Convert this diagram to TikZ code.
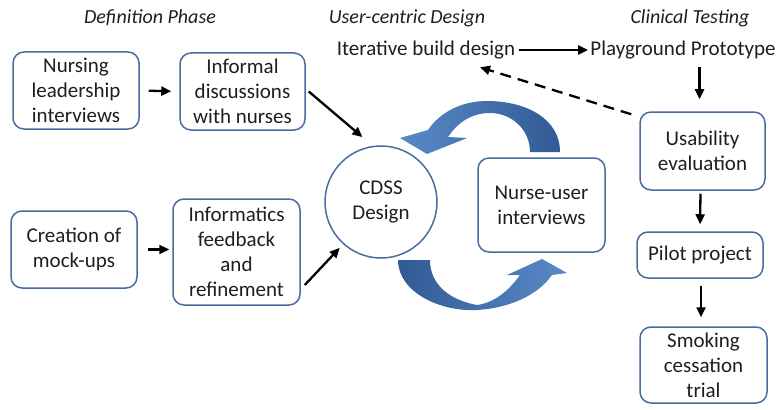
\documentclass[tikz,border=0pt]{standalone}
\usepackage{fontspec}
\setmainfont{Carlito}
\usetikzlibrary{arrows.meta,calc}
\definecolor{boxline}{RGB}{72,108,160}
\definecolor{bluedark}{RGB}{50,90,148}
\definecolor{bluelight}{RGB}{88,138,200}
\definecolor{txt}{RGB}{30,30,30}
\tikzset{
  stepbox/.style={draw=boxline, line width=1.5pt, rounded corners=11pt, align=center, text=txt,
    font=\fontsize{21}{25}\selectfont, inner sep=0pt},
  plain/.style={align=center, text=txt, font=\fontsize{21}{25}\selectfont, inner sep=0pt},
  head/.style={text=txt, font=\fontsize{20}{24}\selectfont\itshape, inner sep=0pt},
  arr/.style={-{Triangle[length=10pt,width=9pt]}, line width=2.3pt, black},
}
\begin{document}
\begin{tikzpicture}[x=1pt,y=-1pt]
\useasboundingbox (0,0) rectangle (783,409);
% headings
\node[head] (h1) at (150,18) {Definition Phase};
\node[head] (h2) at (407,18) {User-centric Design};
\node[head] (h3) at (690,18) {Clinical Testing};
% left boxes
\node[stepbox, minimum width=126pt, minimum height=77pt] (b1) at (76,90.5) {Nursing\\leadership\\interviews};
\node[stepbox, minimum width=125pt, minimum height=77pt] (b2) at (242.5,91.5) {Informal\\discussions\\with nurses};
\node[stepbox, minimum width=126pt, minimum height=77pt] (b3) at (74,249.5) {Creation of\\mock-ups};
\node[stepbox, minimum width=127pt, minimum height=106pt] (b4) at (236.5,252) {Informatics\\feedback\\and\\refinement};
% centre
\node[stepbox, circle, rounded corners=0pt, minimum size=112pt] (cdss) at (381,202) {CDSS\\Design};
\node[stepbox, minimum width=127pt, minimum height=94pt] (nurse) at (541.5,205) {Nurse-user\\interviews};
% top texts
\node[plain] (iter) at (426,50) {Iterative build design};
\node[plain] (play) at (683,50) {Playground Prototype};
% right column
\node[stepbox, minimum width=125pt, minimum height=78pt] (usab) at (702.5,151) {Usability\\evaluation};
\node[stepbox, minimum width=126pt, minimum height=46pt] (pilot) at (700,255) {Pilot project};
\node[stepbox, minimum width=127pt, minimum height=76pt] (smoke) at (703.5,365) {Smoking\\cessation\\trial};
% curved arrows
\shade[left color=bluelight, right color=bluedark, draw=none]
  (560,152) .. controls (560,118) and (525,101) .. (487,101)
  .. controls (462,101) and (440,112) .. (428,130)
  -- (400,138) -- (427,154) -- (467,138) -- (448,137)
  .. controls (458,122) and (472,113) .. (490,113)
  .. controls (512,113) and (530,130) .. (530,152) -- cycle;
\shade[left color=bluedark, right color=bluelight, draw=none]
  (398,260) .. controls (398,292) and (440,312) .. (477,310)
  .. controls (510,308) and (538,295) .. (552,275)
  -- (567,273) -- (542,259) -- (507,275) -- (520,275)
  .. controls (508,292) and (493,303) .. (477,305)
  .. controls (450,300) and (430,285) .. (430,260) -- cycle;
% arrows
\draw[arr, shorten <=9pt, shorten >=8pt] (b1.east) -- (b2.west);
\draw[arr, shorten <=10pt, shorten >=3pt] (b3.east) -- (b4.west |- b3.east);
\draw[arr] ($(b2.east)+(3,0)$) -- ($(cdss.center)!1.19!(cdss.106)$);
\draw[arr] ($(b4.east)+(4,33)$) -- ($(cdss.center)!1.087!(cdss.228)$);
\draw[arr, shorten <=4pt, shorten >=2pt] (iter.east) -- (play.west);
\draw[arr] ($(usab.north)+(-3,-44)$) -- ($(usab.north)+(-3,-12)$);
\draw[arr, shorten <=3pt, shorten >=7pt] ([xshift=-2pt]usab.south) -- ([xshift=0pt]pilot.north);
\draw[arr, shorten <=7pt, shorten >=9pt] ([xshift=1pt]pilot.south) -- ([xshift=-2.5pt]smoke.north);
\draw[arr, dash pattern=on 11pt off 7pt] ($(usab.north west)+(-8,3)$) -- ($(iter.south)+(54,8)$);
\end{tikzpicture}
\end{document}
